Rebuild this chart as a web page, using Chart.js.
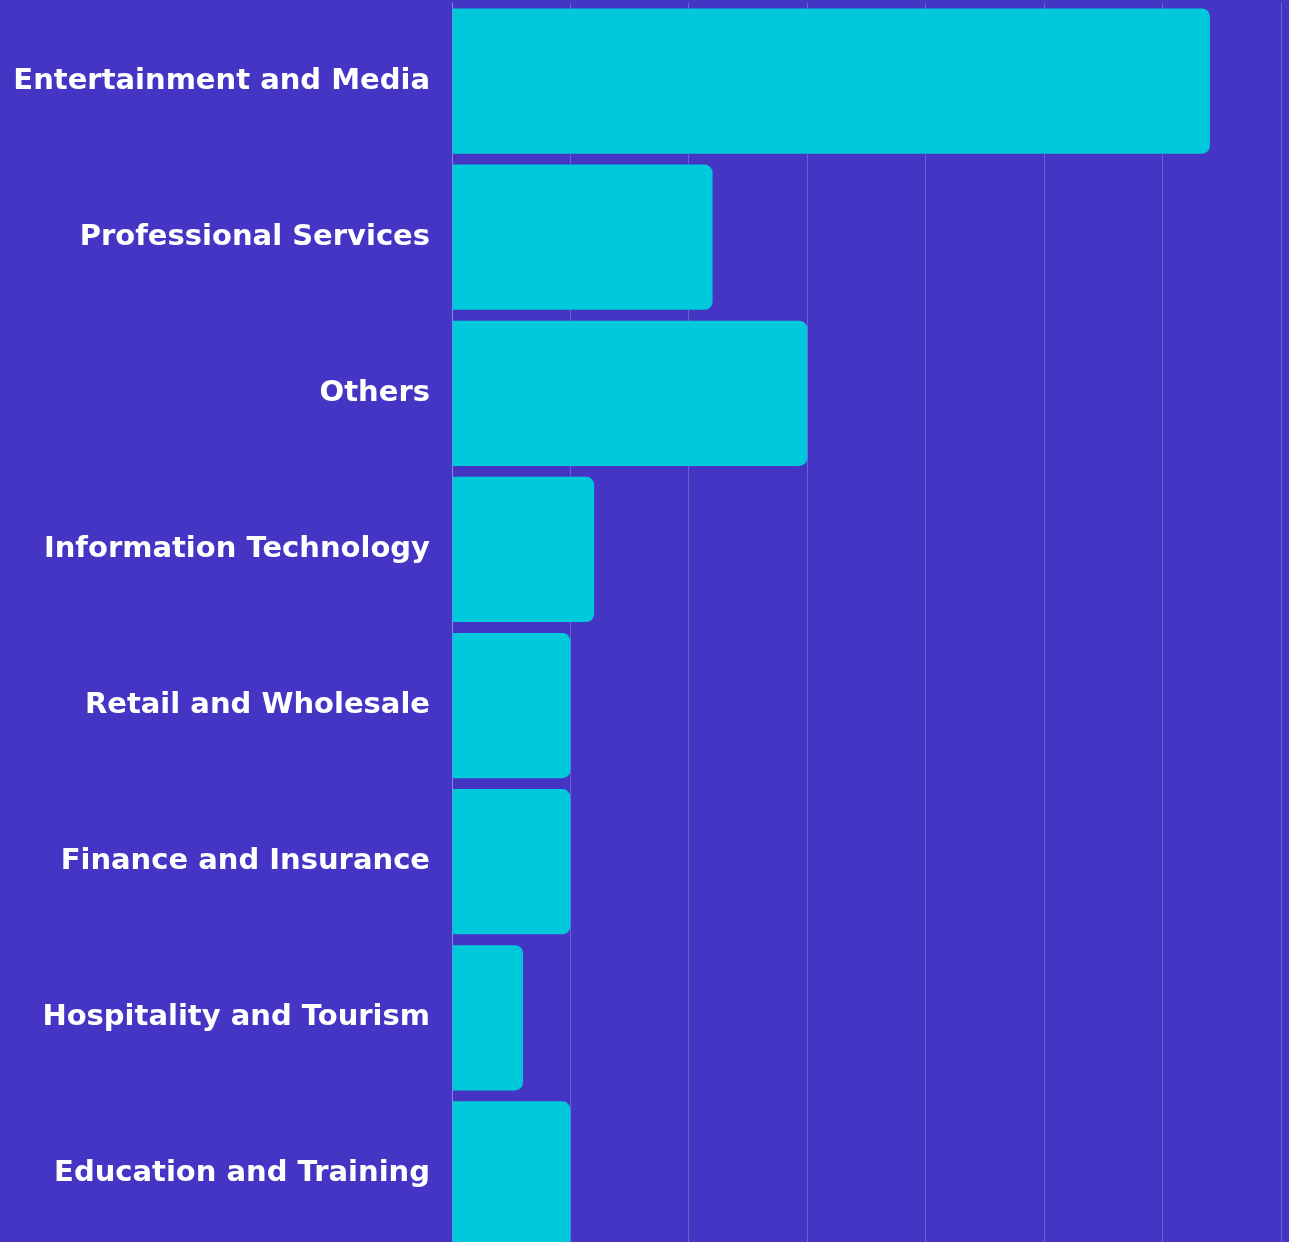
<!DOCTYPE html>
<html><head><meta charset="utf-8">
<script src="https://cdn.jsdelivr.net/npm/chart.js@4/dist/chart.umd.min.js"></script>
<style>
html,body{margin:0;padding:0;background:#4535c4;overflow:hidden;}
#wrap{position:relative;width:1289px;height:1252px;}
</style></head>
<body><div id="wrap"><canvas id="c"></canvas></div>
<script>
const categories = ["Entertainment and Media","Professional Services","Others","Information Technology","Retail and Wholesale","Finance and Insurance","Hospitality and Tourism","Education and Training"];
const values = [6.4, 2.2, 3.0, 1.2, 1.0, 1.0, 0.6, 1.0];
const axisMax = 7;

new Chart(document.getElementById('c'), {
  type: 'bar',
  data: { labels: categories, datasets: [{ data: values, backgroundColor: '#00c9dc', borderRadius: 8, borderSkipped: 'start', categoryPercentage: 0.93, barPercentage: 1 }] },
  options: {
    indexAxis: 'y', responsive: true, maintainAspectRatio: false, animation: false,
    layout: { padding: { top: 3, right: 8, bottom: 0, left: 0 } },
    plugins: { legend: { display: false }, tooltip: { enabled: false } },
    scales: {
      x: { min: 0, max: axisMax, afterFit: s => { s.height = 0; s.paddingLeft = 0; s.paddingRight = 0; },
           ticks: { display: false, stepSize: 1 }, grid: { color: 'rgba(255,255,255,0.22)', lineWidth: 1, drawTicks: false }, border: { display: false } },
      y: {
        afterFit: s => { s.width = 452; s.paddingTop = 0; s.paddingBottom = 0; },
        ticks: { color: '#ffffff', padding: 22, font: { family: 'DejaVu Sans', weight: 'bold', size: 29 } },
        grid: { display: false, drawTicks: false }, border: { display: true, color: 'rgba(255,255,255,0.22)' }
      }
    }
  }
});
</script></body></html>
